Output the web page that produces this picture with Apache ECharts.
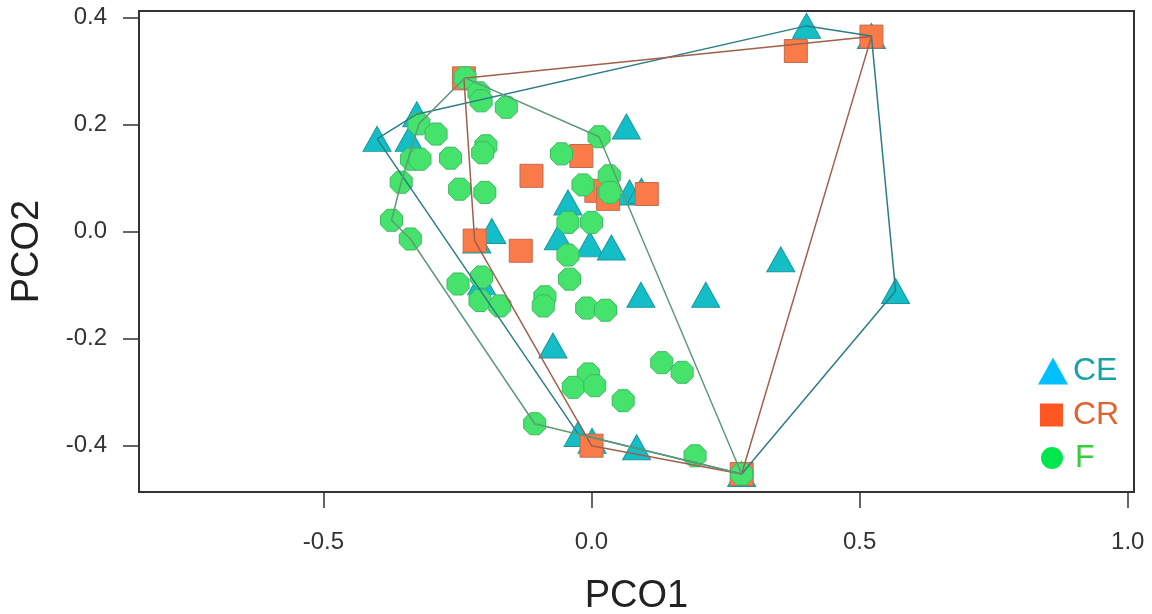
<!DOCTYPE html>
<html>
<head>
<meta charset="utf-8">
<script src="https://cdn.jsdelivr.net/npm/echarts@6/dist/echarts.min.js"></script>
<style>
html,body{margin:0;padding:0;background:#fff;}
#chart{width:1152px;height:614px;}
</style>
</head>
<body>
<div id="chart"></div>
<script>
// ---- data (PCO1, PCO2) ----
var groupNames = ['CE', 'CR', 'F'];
var ceData = [
  [-0.400, 0.173], [-0.326, 0.219], [-0.340, 0.173], [0.401, 0.384], [0.522, 0.365],
  [0.065, 0.196], [0.071, 0.073], [0.093, 0.076], [-0.044, 0.054], [-0.186, 0.001],
  [-0.214, -0.017], [-0.062, -0.011], [-0.003, -0.024], [0.037, -0.030], [-0.205, -0.095],
  [0.092, -0.118], [0.213, -0.118], [0.353, -0.052], [0.567, -0.111], [-0.072, -0.213],
  [-0.025, -0.378], [0.001, -0.391], [0.084, -0.403], [0.280, -0.453]
];
var crData = [
  [-0.238, 0.286], [0.522, 0.364], [0.381, 0.337], [-0.019, 0.141], [-0.112, 0.104],
  [0.009, 0.076], [0.031, 0.061], [0.103, 0.070], [-0.218, -0.017], [-0.132, -0.036],
  [0.000, -0.400], [0.280, -0.453]
];
var fData = [
  [-0.236, 0.287], [-0.210, 0.259], [-0.206, 0.244], [-0.159, 0.232], [-0.322, 0.201],
  [-0.290, 0.182], [-0.336, 0.135], [-0.320, 0.135], [-0.263, 0.137], [-0.197, 0.160],
  [-0.203, 0.147], [0.014, 0.177], [-0.056, 0.145], [-0.355, 0.092], [-0.246, 0.079],
  [-0.199, 0.073], [0.033, 0.104], [-0.016, 0.087], [0.034, 0.073], [-0.373, 0.021],
  [-0.338, -0.014], [-0.044, 0.017], [0.000, 0.017], [-0.044, -0.044], [-0.041, -0.089],
  [-0.249, -0.098], [-0.205, -0.085], [-0.208, -0.129], [-0.171, -0.139], [-0.087, -0.122],
  [-0.090, -0.139], [-0.009, -0.143], [0.026, -0.147], [0.131, -0.245], [0.169, -0.263],
  [-0.006, -0.266], [-0.034, -0.291], [0.006, -0.288], [0.059, -0.316], [-0.106, -0.359],
  [0.193, -0.419], [0.280, -0.453]
];
// hull outline vertex order (indices into the arrays above)
var ceHull = [0, 1, 3, 4, 18, 23, 20, 0];
var crHull = [0, 1, 11, 10, 8, 0];
var fHull = [0, 11, 41, 39, 20, 19, 13, 4, 0];
// tick labels
var xTicks = [-0.5, 0.0, 0.5, 1.0];
var yTicks = [-0.4, -0.2, 0.0, 0.2, 0.4];

function hullLine(data, idx) { return idx.map(function (i) { return data[i]; }); }

var octagon = 'path://M0.29,0L0.71,0L1,0.29L1,0.71L0.71,1L0.29,1L0,0.71L0,0.29Z';
var font = 'Liberation Sans, Arial, sans-serif';

var chart = echarts.init(document.getElementById('chart'));
var lineZ = 5;
chart.setOption({
  backgroundColor: '#ffffff',
  animation: false,
  grid: { left: 139, right: 18, top: 11, bottom: 122, show: true, borderColor: '#333', borderWidth: 2,
    backgroundColor: 'transparent', containLabel: false, outerBoundsMode: 'none' },
  xAxis: {
    type: 'value', min: -0.844, max: 1.0117,
    name: 'PCO1', nameLocation: 'middle', nameGap: 86,
    nameTextStyle: { fontSize: 38, color: '#222', fontFamily: font },
    axisLine: { show: true, onZero: false, lineStyle: { color: '#333', width: 2 } },
    axisTick: { show: true, length: 16, customValues: xTicks, lineStyle: { color: '#333', width: 1.5 } },
    axisLabel: { customValues: xTicks, margin: 38, fontSize: 24, color: '#333', fontFamily: font,
      formatter: function (v) { return v.toFixed(1); } },
    splitLine: { show: false }
  },
  yAxis: {
    type: 'value', min: -0.4865, max: 0.4118,
    name: 'PCO2', nameLocation: 'middle', nameGap: 92, nameRotate: 90,
    nameTextStyle: { fontSize: 38, color: '#222', fontFamily: font },
    axisLine: { show: true, onZero: false, lineStyle: { color: '#333', width: 2 } },
    axisTick: { show: true, length: 16, customValues: yTicks, lineStyle: { color: '#333', width: 1.5 } },
    axisLabel: { customValues: yTicks, margin: 32, fontSize: 24, color: '#333', fontFamily: font,
      formatter: function (v) { return v.toFixed(1); } },
    splitLine: { show: false }
  },
  legend: [
    { selectedMode: false, orient: 'vertical', left: 1038, top: 355, padding: 0, itemWidth: 30, itemHeight: 27,
      data: [{ name: 'CE', icon: 'triangle', itemStyle: { color: '#00BFFF', borderWidth: 0 }, textStyle: { color: '#19A2A6' } }],
      textStyle: { fontSize: 32, fontFamily: font } },
    { selectedMode: false, orient: 'vertical', left: 1040, top: 399, padding: 0, itemWidth: 23, itemHeight: 23,
      data: [{ name: 'CR', icon: 'rect', itemStyle: { color: '#FF5722', borderWidth: 0 }, textStyle: { color: '#E0642E', padding: [0, 0, 0, 5] } }],
      textStyle: { fontSize: 32, fontFamily: font } },
    { selectedMode: false, orient: 'vertical', left: 1041, top: 442, padding: 0, itemWidth: 22, itemHeight: 22,
      data: [{ name: 'F', icon: 'circle', itemStyle: { color: '#00E64D', borderWidth: 0 }, textStyle: { color: '#3DCB3D', padding: [0, 0, 0, 7] } }],
      textStyle: { fontSize: 32, fontFamily: font } }
  ],
  series: [
    { name: 'CE', type: 'scatter', data: ceData, symbol: 'triangle', symbolSize: [28, 25], z: 2,
      itemStyle: { color: '#14BEC6', borderColor: '#1A979C', borderWidth: 1, opacity: 1 } },
    { name: 'CR', type: 'scatter', data: crData, symbol: 'rect', symbolSize: 23, z: 2,
      itemStyle: { color: '#FA7A48', borderColor: '#C26A4E', borderWidth: 1, opacity: 1 } },
    { name: 'F', type: 'scatter', data: fData, symbol: octagon, symbolSize: 22, z: 3,
      itemStyle: { color: '#45E36C', borderColor: '#3BB862', borderWidth: 1, opacity: 1 } },
    { name: 'CE hull', type: 'line', data: hullLine(ceData, ceHull), symbol: 'none', z: lineZ,
      lineStyle: { color: '#2B7D86', width: 1.5 } },
    { name: 'CR hull', type: 'line', data: hullLine(crData, crHull), symbol: 'none', z: lineZ,
      lineStyle: { color: '#A0604C', width: 1.5 } },
    { name: 'F hull', type: 'line', data: hullLine(fData, fHull), symbol: 'none', z: lineZ,
      lineStyle: { color: '#5F9A78', width: 1.5 } }
  ]
});
</script>
</body>
</html>
